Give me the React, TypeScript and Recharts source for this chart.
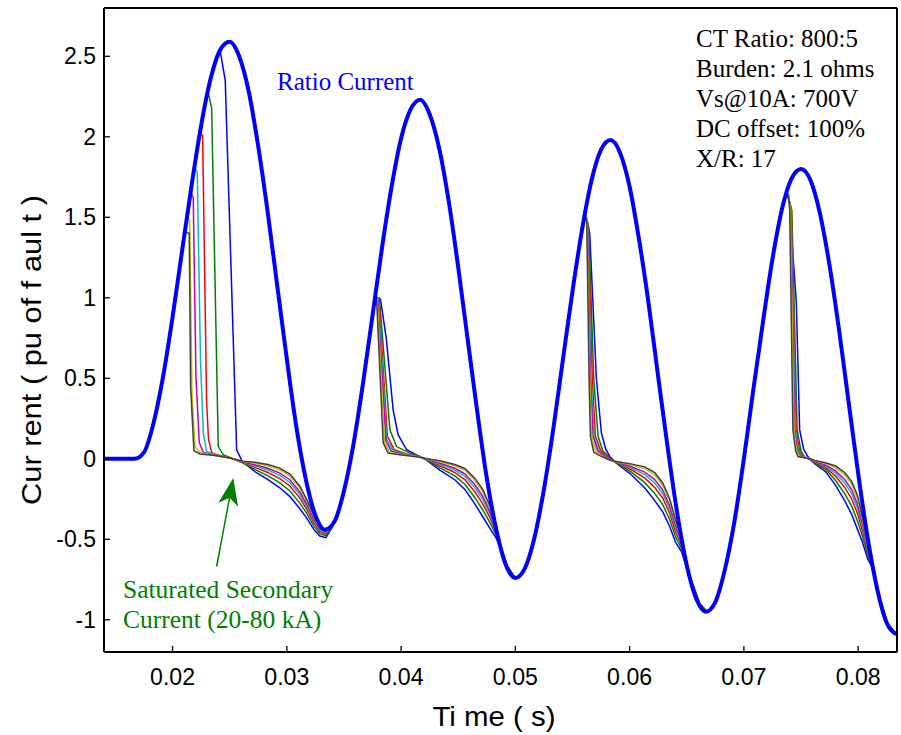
import React from "react";
import { LineChart, Line, XAxis, YAxis, ReferenceLine } from "recharts";

// time in ms, current in pu of fault
const ratioTimeMs = [
  14.0, 16.67, 17.5, 18.33, 19.17, 20.0, 20.83, 21.67, 22.5, 23.33, 24.17, 25.0,
  25.83, 26.67, 27.5, 28.33, 29.17, 30.0, 30.83, 31.67, 32.5, 33.33, 34.17, 35.0,
  35.83, 36.67, 37.5, 38.33, 39.17, 40.0, 40.83, 41.67, 42.5, 43.33, 44.17, 45.0,
  45.83, 46.67, 47.5, 48.33, 49.17, 50.0, 50.83, 51.67, 52.5, 53.33, 54.17, 55.0,
  55.83, 56.67, 57.5, 58.33, 59.17, 60.0, 60.83, 61.67, 62.5, 63.33, 64.17, 65.0,
  65.83, 66.67, 67.5, 68.33, 69.17, 70.0, 70.83, 71.67, 72.5, 73.33, 74.17, 75.0,
  75.83, 76.67, 77.5, 78.33, 79.17, 80.0, 80.83, 81.67, 82.5, 83.33,
];
const ratioCurrent = [
  0, 0, 0.04, 0.22, 0.51, 0.88, 1.29, 1.7, 2.07, 2.36, 2.54, 2.59,
  2.5, 2.28, 1.94, 1.53, 1.07, 0.62, 0.2, -0.13, -0.35, -0.44, -0.39, -0.2,
  0.09, 0.47, 0.89, 1.31, 1.69, 1.99, 2.17, 2.23, 2.14, 1.93, 1.6, 1.19,
  0.74, 0.29, -0.12, -0.44, -0.66, -0.74, -0.68, -0.49, -0.19, 0.19, 0.62, 1.04,
  1.42, 1.73, 1.92, 1.98, 1.9, 1.69, 1.36, 0.96, 0.51, 0.07, -0.34, -0.66,
  -0.87, -0.95, -0.89, -0.69, -0.39, 0.0, 0.43, 0.85, 1.24, 1.55, 1.74, 1.8,
  1.73, 1.52, 1.2, 0.8, 0.35, -0.09, -0.49, -0.81, -1.02, -1.09,
];

// shared times of the slow tail after each saturation (one list per cycle)
const tailTimes = [
  [26.16, 27.21, 28.35, 29.39, 30.27, 31.14, 31.76, 32.37, 32.89, 33.42, 34.03],
  [42.25, 43.39, 44.7, 45.58, 46.45, 47.15, 47.76, 48.29, 48.64, 49.25, 49.95],
  [58.7, 60.01, 61.32, 62.2, 62.9, 63.51, 64.03, 64.56, 65.26, 66.13, 66.74],
  [76.19, 77.15, 78.03, 78.82, 79.43, 79.95, 80.39, 80.83, 81.26, 81.88, 82.58, 83.36],
];

// saturation + drop points [ms, pu], one list per cycle
const blackHead = [
  [[21.07, 1.41], [21.46, 1.4], [21.58, 0.45], [21.87, 0.05], [22.4, 0.03], [23.71, 0.02], [25.02, 0.005]],
  [[37.72, 1.0], [37.85, 1.0], [38.43, 0.1], [38.87, 0.035], [39.89, 0.025], [41.64, 0.01]],
  [[56.11, 1.525], [56.25, 1.47], [56.45, 0.5], [56.57, 0.14], [56.86, 0.04], [57.39, 0.02], [58.0, 0.0]],
  [[73.78, 1.65], [74.0, 1.59], [74.29, 0.18], [74.53, 0.05], [74.73, 0.014], [75.75, 0.0]],
];
const blackTail = [
  [-0.015, -0.022, -0.035, -0.058, -0.095, -0.17, -0.255, -0.35, -0.42, -0.44, -0.4],
  [0.0, -0.012, -0.035, -0.06, -0.12, -0.19, -0.29, -0.4, -0.52, -0.66, -0.735],
  [-0.015, -0.03, -0.05, -0.085, -0.15, -0.25, -0.38, -0.5, -0.725, -0.898, -0.948],
  [-0.01, -0.025, -0.045, -0.085, -0.14, -0.23, -0.37, -0.51, -0.656, -0.864, -1.024, -1.09],
];

const yellowHead = [
  [[21.26, 1.5], [21.5, 1.48], [21.7, 0.4], [21.96, 0.076], [22.4, 0.037], [23.71, 0.02], [25.02, 0.005]],
  [[37.72, 1.0], [37.9, 1.0], [38.55, 0.1], [39.02, 0.04], [39.89, 0.028], [41.64, 0.012]],
  [[56.11, 1.525], [56.27, 1.47], [56.51, 0.5], [56.69, 0.14], [57.03, 0.045], [57.56, 0.02], [58.0, 0.0]],
  [[73.78, 1.65], [74.05, 1.58], [74.38, 0.18], [74.62, 0.05], [74.88, 0.014], [75.75, 0.0]],
];
const yellowTail = [
  [-0.016, -0.027, -0.043, -0.068, -0.106, -0.181, -0.264, -0.357, -0.425, -0.444, -0.402],
  [-0.001, -0.017, -0.043, -0.07, -0.133, -0.204, -0.301, -0.407, -0.522, -0.661, -0.735],
  [-0.015, -0.035, -0.06, -0.099, -0.164, -0.264, -0.391, -0.506, -0.726, -0.898, -0.948],
  [-0.012, -0.029, -0.055, -0.099, -0.156, -0.247, -0.382, -0.519, -0.658, -0.865, -1.024, -1.09],
];

const magentaHead = [
  [[21.58, 1.66], [21.81, 1.62], [22.05, 0.5], [22.34, 0.1], [22.69, 0.04], [23.71, 0.022], [25.02, 0.005]],
  [[37.72, 1.0], [37.95, 1.0], [38.67, 0.11], [39.17, 0.045], [40.0, 0.03], [41.64, 0.012]],
  [[56.11, 1.525], [56.3, 1.46], [56.57, 0.5], [56.8, 0.14], [57.21, 0.05], [57.73, 0.02], [58.17, -0.005]],
  [[73.78, 1.65], [74.09, 1.57], [74.44, 0.18], [74.7, 0.05], [74.97, 0.014], [75.75, 0.0]],
];
const magentaTail = [
  [-0.019, -0.037, -0.059, -0.089, -0.13, -0.205, -0.284, -0.373, -0.435, -0.453, -0.405],
  [-0.003, -0.027, -0.059, -0.093, -0.16, -0.233, -0.325, -0.423, -0.525, -0.662, -0.736],
  [-0.016, -0.045, -0.083, -0.129, -0.195, -0.293, -0.415, -0.52, -0.729, -0.899, -0.948],
  [-0.015, -0.039, -0.075, -0.129, -0.191, -0.283, -0.408, -0.538, -0.662, -0.866, -1.024, -1.09],
];

const cyanHead = [
  [[21.91, 1.81], [22.16, 1.78], [22.45, 0.6], [22.69, 0.16], [22.98, 0.045], [23.71, 0.025], [25.02, 0.006]],
  [[37.72, 1.0], [38.0, 1.0], [38.73, 0.12], [39.31, 0.05], [40.2, 0.03], [41.64, 0.012]],
  [[56.11, 1.525], [56.33, 1.46], [56.62, 0.5], [56.89, 0.14], [57.3, 0.05], [57.82, 0.02], [58.26, -0.005]],
  [[73.78, 1.65], [74.12, 1.56], [74.5, 0.18], [74.79, 0.05], [75.05, 0.014], [75.75, 0.0]],
];
const cyanTail = [
  [-0.021, -0.043, -0.07, -0.103, -0.147, -0.222, -0.298, -0.383, -0.442, -0.459, -0.407],
  [-0.004, -0.033, -0.07, -0.108, -0.179, -0.253, -0.342, -0.433, -0.527, -0.663, -0.736],
  [-0.017, -0.052, -0.098, -0.15, -0.217, -0.313, -0.432, -0.53, -0.731, -0.899, -0.948],
  [-0.017, -0.045, -0.089, -0.15, -0.216, -0.308, -0.426, -0.551, -0.665, -0.866, -1.024, -1.09],
];

const redHead = [
  [[22.38, 2.02], [22.63, 2.01], [22.98, 0.35], [23.15, 0.12], [23.42, 0.04], [23.71, 0.028], [25.02, 0.007]],
  [[37.72, 1.0], [38.05, 1.0], [38.8, 0.14], [39.4, 0.056], [40.4, 0.032], [41.64, 0.013]],
  [[56.11, 1.525], [56.36, 1.45], [56.73, 0.5], [57.01, 0.14], [57.47, 0.05], [58.0, 0.02], [58.35, -0.005]],
  [[73.78, 1.65], [74.15, 1.55], [74.56, 0.18], [74.88, 0.05], [75.14, 0.014], [75.75, -0.002]],
];
const redTail = [
  [-0.023, -0.053, -0.085, -0.123, -0.169, -0.244, -0.316, -0.398, -0.452, -0.467, -0.411],
  [-0.005, -0.043, -0.085, -0.129, -0.205, -0.28, -0.364, -0.448, -0.531, -0.664, -0.737],
  [-0.018, -0.062, -0.119, -0.178, -0.245, -0.34, -0.454, -0.542, -0.733, -0.9, -0.948],
  [-0.021, -0.054, -0.109, -0.178, -0.249, -0.341, -0.45, -0.568, -0.669, -0.867, -1.024, -1.09],
];

const greenHead = [
  [[23.09, 2.28], [23.42, 2.18], [24.0, 0.076], [24.44, 0.025], [25.02, 0.008]],
  [[37.72, 1.0], [38.1, 1.0], [39.02, 0.18], [39.6, 0.076], [40.77, 0.035], [41.64, 0.015]],
  [[56.11, 1.525], [56.42, 1.44], [56.86, 0.5], [57.24, 0.14], [57.65, 0.05], [58.08, 0.02], [58.43, -0.01]],
  [[73.78, 1.65], [74.2, 1.54], [74.66, 0.18], [75.0, 0.05], [75.28, 0.014], [75.75, -0.005]],
];
const greenTail = [
  [-0.026, -0.066, -0.106, -0.15, -0.2, -0.275, -0.341, -0.418, -0.465, -0.478, -0.415],
  [-0.008, -0.056, -0.106, -0.158, -0.24, -0.318, -0.395, -0.468, -0.535, -0.666, -0.738],
  [-0.019, -0.075, -0.148, -0.216, -0.285, -0.378, -0.485, -0.56, -0.736, -0.9, -0.948],
  [-0.025, -0.066, -0.135, -0.216, -0.294, -0.388, -0.483, -0.593, -0.674, -0.868, -1.024, -1.09],
];

const blueHead = [
  [[24.15, 2.54], [24.61, 2.35], [25.61, 0.056], [26.04, -0.006]],
  [[37.72, 1.0], [38.2, 0.99], [38.7, 0.75], [39.31, 0.3], [39.74, 0.15], [40.48, 0.056], [41.64, 0.014]],
  [[56.11, 1.525], [56.51, 1.4], [57.09, 0.5], [57.53, 0.16], [57.91, 0.06], [58.26, 0.015], [58.52, -0.005]],
  [[73.78, 1.65], [73.92, 1.64], [74.59, 0.97], [74.88, 0.18], [75.23, 0.06], [75.6, 0.014], [75.75, 0.0]],
];
const blueTail = [
  [-0.02, -0.08, -0.13, -0.18, -0.235, -0.31, -0.37, -0.44, -0.48, -0.49, -0.42],
  [-0.01, -0.07, -0.13, -0.19, -0.28, -0.36, -0.43, -0.49, -0.54, -0.67, -0.74],
  [-0.02, -0.09, -0.18, -0.26, -0.33, -0.42, -0.52, -0.58, -0.74, -0.9, -0.948],
  [-0.03, -0.08, -0.165, -0.26, -0.345, -0.44, -0.52, -0.62, -0.68, -0.87, -1.024, -1.09],
];

const xTicks = [20, 30, 40, 50, 60, 70, 80];
const yTicks = [-1, -0.5, 0, 0.5, 1, 1.5, 2, 2.5];
const infoLines = ["CT Ratio: 800:5", "Burden: 2.1 ohms", "Vs@10A: 700V", "DC offset: 100%", "X/R: 17"];

const SANS = "'Liberation Sans', Arial, sans-serif";
const SERIF = "'Liberation Serif', 'Times New Roman', serif";

function buildSat(heads: number[][][], tails: number[][]) {
  const pts: { t: number; v: number | null }[] = [];
  heads.forEach((head, c) => {
    head.forEach(([t, v]) => pts.push({ t, v }));
    tailTimes[c].forEach((t, i) => pts.push({ t, v: tails[c][i] }));
    pts.push({ t: tailTimes[c][tailTimes[c].length - 1] + 0.01, v: null });
  });
  return pts;
}

const ratioData = ratioTimeMs.map((t, i) => ({ t, v: ratioCurrent[i] }));
const satSeries = [
  { key: "blue", color: "#0000ff", data: buildSat(blueHead, blueTail) },
  { key: "green", color: "#008000", data: buildSat(greenHead, greenTail) },
  { key: "red", color: "#ff0000", data: buildSat(redHead, redTail) },
  { key: "cyan", color: "#00bfbf", data: buildSat(cyanHead, cyanTail) },
  { key: "magenta", color: "#bf00bf", data: buildSat(magentaHead, magentaTail) },
  { key: "yellow", color: "#bfbf00", data: buildSat(yellowHead, yellowTail) },
  { key: "black", color: "#404040", data: buildSat(blackHead, blackTail) },
];

const XTick = (props: any) => {
  const { x, y, payload } = props;
  return (
    <text x={x} y={y} dy={17} textAnchor="middle" fontSize={23} fontFamily={SANS} fill="#000"
      textLength={45} lengthAdjust="spacingAndGlyphs">
      {(payload.value / 1000).toFixed(2)}
    </text>
  );
};

const Arrow = (props: any) => {
  const { x1, y1, x2, y2 } = props;
  const ang = Math.atan2(y2 - y1, x2 - x1);
  const len = 27, half = 10, notch = 7;
  const ux = Math.cos(ang), uy = Math.sin(ang);
  const bx = x2 - ux * len, by = y2 - uy * len;
  const nx = x2 - ux * (len - notch), ny = y2 - uy * (len - notch);
  const p = `${x2},${y2} ${bx - uy * half},${by + ux * half} ${nx},${ny} ${bx + uy * half},${by - ux * half}`;
  return (
    <g>
      <line x1={x1} y1={y1} x2={nx} y2={ny} stroke="#008000" strokeWidth={1.5} />
      <polygon points={p} fill="#008000" />
    </g>
  );
};

const axisLine = { stroke: "#000", strokeWidth: 2 };
const tickLine = { stroke: "#000", strokeWidth: 1.3 };

export default function App() {
  return (
    <div style={{ position: "absolute", left: 0, top: 0, width: 901, height: 735, background: "#fff" }}>
      <LineChart width={901} height={735} margin={{ top: 0, right: 0, bottom: 0, left: 0 }}>
        <XAxis dataKey="t" type="number" domain={[14, 83.4]} ticks={xTicks} height={83}
          tickSize={-6} tickMargin={22} tick={<XTick />} axisLine={axisLine} tickLine={tickLine} />
        <XAxis xAxisId="top" orientation="top" dataKey="t" type="number" domain={[14, 83.4]} ticks={xTicks}
          height={8} tickSize={-6} tick={false} axisLine={axisLine} tickLine={tickLine} />
        <YAxis type="number" domain={[-1.2, 2.8]} ticks={yTicks} width={104} tickSize={-6} tickMargin={14}
          tick={{ fontSize: 23, fill: "#000", fontFamily: SANS }} axisLine={axisLine} tickLine={tickLine} />
        <YAxis yAxisId="right" orientation="right" type="number" domain={[-1.2, 2.8]} ticks={yTicks} width={4}
          tickSize={-6} tick={false} axisLine={axisLine} tickLine={tickLine} />
        {satSeries.map((s) => (
          <Line key={s.key} data={s.data} dataKey="v" type="linear" stroke={s.color} strokeWidth={1.5}
            dot={false} activeDot={false} isAnimationActive={false} />
        ))}
        <Line data={ratioData} dataKey="v" type="monotone" stroke="#0000ff" strokeWidth={4}
          dot={false} activeDot={false} isAnimationActive={false} strokeLinejoin="round" />
        <ReferenceLine segment={[{ x: 23.86, y: -0.669 }, { x: 25.31, y: -0.12 }]} shape={<Arrow />}
          ifOverflow="visible" />
      </LineChart>
      <svg width={901} height={735} style={{ position: "absolute", left: 0, top: 0, pointerEvents: "none" }}>
        <text transform="translate(41,350) rotate(-90)" textAnchor="middle" fontSize={28} fontFamily={SANS}
          fill="#000" textLength={310} lengthAdjust="spacingAndGlyphs">
          Cur rent ( pu of f aul t )
        </text>
        <text x={494} y={726} textAnchor="middle" fontSize={28} fontFamily={SANS} fill="#000"
          textLength={123} lengthAdjust="spacingAndGlyphs">
          Ti me ( s)
        </text>
        <text x={277} y={90} fontSize={25} fontFamily={SERIF} fill="#0000ff">Ratio Current</text>
        {infoLines.map((s, i) => (
          <text key={s} x={696} y={47 + i * 30} fontSize={25} fontFamily={SERIF} fill="#000">{s}</text>
        ))}
        <text x={123} y={598} fontSize={25.5} fontFamily={SERIF} fill="#008000">Saturated Secondary</text>
        <text x={123} y={628} fontSize={25.5} fontFamily={SERIF} fill="#008000">Current (20-80 kA)</text>
      </svg>
    </div>
  );
}
